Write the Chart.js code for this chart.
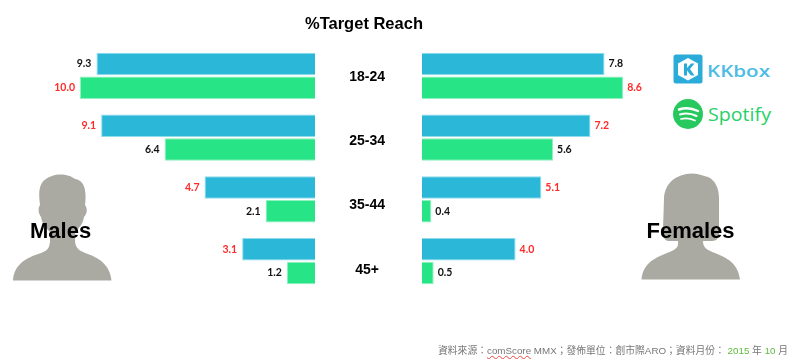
<!DOCTYPE html>
<html><head><meta charset="utf-8">
<style>
html,body{margin:0;padding:0;background:#fff;width:800px;height:359px;overflow:hidden}
#stage{position:relative;width:800px;height:359px;font-family:"Liberation Sans",Arial,sans-serif}
canvas,svg{position:absolute}
.t{position:absolute;white-space:nowrap;color:#000;font-weight:bold}
</style>
<script src="https://cdn.jsdelivr.net/npm/chart.js@4/dist/chart.umd.min.js"></script>
</head><body><div id="stage">
<svg width="800" height="359" style="left:0;top:0">
 <path fill="#ABAAA2" d="M13,280.5C14,264 27,258 38,254C47,251 50,249 50,240L50,232C45,227 42,223 41,217C38,213 38,208 40,205C38,190 39,180 52,176C60,173 70,175 75,179C84,180 87,190 85,205C88,209 87,214 84,217C83,224 79,228 75,232L75,240C75,249 80,251 88,254C98,258 110,264 111.5,280.5Z"/>
 <path fill="#ABAAA2" d="M641.5,279.5C643,263 655,258 667,253C675,250 679,248 678,241L668,241C664,240 663,236 663,230L664,198C665,183 676,174 692,173.500C700,174 703,176 708,177C715,180 719,188 719,198L719,232C719,238 717,241 712,241L703,241C703,248 707,250 715,253C727,258 738,263 740,279.500Z"/>
 <rect x="673.500" y="54.500" width="29" height="29" rx="2.500" fill="#2BACD8"/>
 <path fill="#fff" d="M688,58L698,63.500L698,75L688,80.500L678,75L678,63.500Z"/>
 <path fill="#2BACD8" d="M684,63.500L687,63.500L687,68L691,63.500L694.500,63.500L690,69L694.500,75.500L691,75.500L687,70.500L687,75.500L684,75.500Z"/>
 <text x="707" y="77" font-family="Open Sans" font-weight="600" font-size="17" fill="#4FBCE4" textLength="63" lengthAdjust="spacingAndGlyphs">KKbox</text>
 <circle cx="688" cy="114" r="15" fill="#27C95F"/>
 <path d="M679,109.500C685,107.500 692,108 698,111" stroke="#fff" stroke-width="2.400" fill="none" stroke-linecap="round"/>
 <path d="M680,114.500C685.500,113 691.500,113.500 696.500,116" stroke="#fff" stroke-width="2" fill="none" stroke-linecap="round"/>
 <path d="M681,119C685.500,118 690.500,118.500 695,120.500" stroke="#fff" stroke-width="1.700" fill="none" stroke-linecap="round"/>
 <text x="708" y="121" font-family="Open Sans" font-weight="400" font-size="19" fill="#27D068" textLength="63" lengthAdjust="spacingAndGlyphs">Spotify</text>
</svg>
<canvas id="male" width="315" height="359" style="left:0;top:0"></canvas>
<canvas id="female" width="378" height="359" style="left:422px;top:0"></canvas>
<canvas id="ages" width="120" height="359" style="left:273px;top:0"></canvas>
<div class="t" style="left:305px;top:13px;font-size:16.500px;line-height:20px">%Target Reach</div>
<div class="t" style="left:30px;top:219px;font-size:22px;line-height:24px">Males</div>
<div class="t" style="left:646.500px;top:219px;font-size:22px;line-height:24px">Females</div>
<div style="position:absolute;left:438px;top:344px;font-size:9.800px;line-height:14px;white-space:nowrap;color:#777;font-family:'Liberation Sans','Noto Sans CJK TC',sans-serif">資料來源：<span style="text-decoration:underline wavy #e44 1px">comScore</span> MMX；發佈單位：創市際ARO；資料月份： <span style="color:#5DBB3C">2015</span> 年 <span style="color:#5DBB3C">10</span> 月</div>
</div>
<script>
const categories = ["18-24","25-34","35-44","45+"];
const maleKKBOX = [9.3,9.1,4.7,3.1];
const maleSpotify = [10.0,6.4,2.1,1.2];
const femaleKKBOX = [7.8,7.2,5.1,4.0];
const femaleSpotify = [8.6,5.6,0.4,0.5];
const maleKKBOXHighlight = [false,true,true,true];
const maleSpotifyHighlight = [true,false,false,false];
const femaleKKBOXHighlight = [false,true,true,true];
const femaleSpotifyHighlight = [true,false,false,false];

const BLUE="#2BB8D8", GREEN="#27E586", BLUE_EDGE="#8FDCEE", GREEN_EDGE="#8FF0C0";
const valueLabels = {
  id:"valueLabels",
  afterDatasetsDraw(chart,args,opts){
    const c=chart.ctx;
    c.save();
    c.font='bold 10.500px Lato';
    c.textBaseline='middle';
    c.textAlign=opts.reverse?'right':'left';
    chart.data.datasets.forEach((ds,i)=>{
      chart.getDatasetMeta(i).data.forEach((el,j)=>{
        c.fillStyle=ds.highlight[j]?"#FF2A2A":"#111";
        c.fillText(ds.data[j].toFixed(1), el.x+(opts.reverse?-5:4), el.y);
      });
    });
    c.restore();
  }
};
function side(id,kk,sp,kkH,spH,reverse,xMax){
  new Chart(document.getElementById(id),{
    type:"bar",
    plugins:[valueLabels],
    data:{labels:categories,datasets:[
      {label:"KKBOX",data:kk,highlight:kkH,backgroundColor:BLUE,borderColor:BLUE_EDGE,borderWidth:1},
      {label:"Spotify",data:sp,highlight:spH,backgroundColor:GREEN,borderColor:GREEN_EDGE,borderWidth:1}
    ]},
    options:{
      indexAxis:"y",responsive:false,animation:false,
      layout:{padding:{top:45,bottom:67,left:0,right:0}},
      datasets:{bar:{categoryPercentage:0.775,barPercentage:0.94}},
      scales:{
        x:{display:false,min:0,max:xMax,reverse:reverse},
        y:{display:false}
      },
      plugins:{legend:{display:false},tooltip:{enabled:false},valueLabels:{reverse:reverse}}
    }
  });
}
side("male",maleKKBOX,maleSpotify,maleKKBOXHighlight,maleSpotifyHighlight,true,315/23.5);
side("female",femaleKKBOX,femaleSpotify,femaleKKBOXHighlight,femaleSpotifyHighlight,false,378/23.4);
new Chart(document.getElementById("ages"),{
  type:"bar",
  data:{labels:categories,datasets:[{data:[],backgroundColor:"transparent"}]},
  options:{
    indexAxis:"y",responsive:false,animation:false,
    layout:{padding:{top:45,bottom:57}},
    scales:{
      x:{display:false},
      y:{grid:{display:false},border:{display:false},
         afterFit(s){s.width=120;},
         ticks:{color:"#000",crossAlign:"center",padding:0,autoSkip:false,
                font:{family:"Liberation Sans",weight:"bold",size:14}}}
    },
    plugins:{legend:{display:false},tooltip:{enabled:false}}
  }
});
</script>
</body></html>
